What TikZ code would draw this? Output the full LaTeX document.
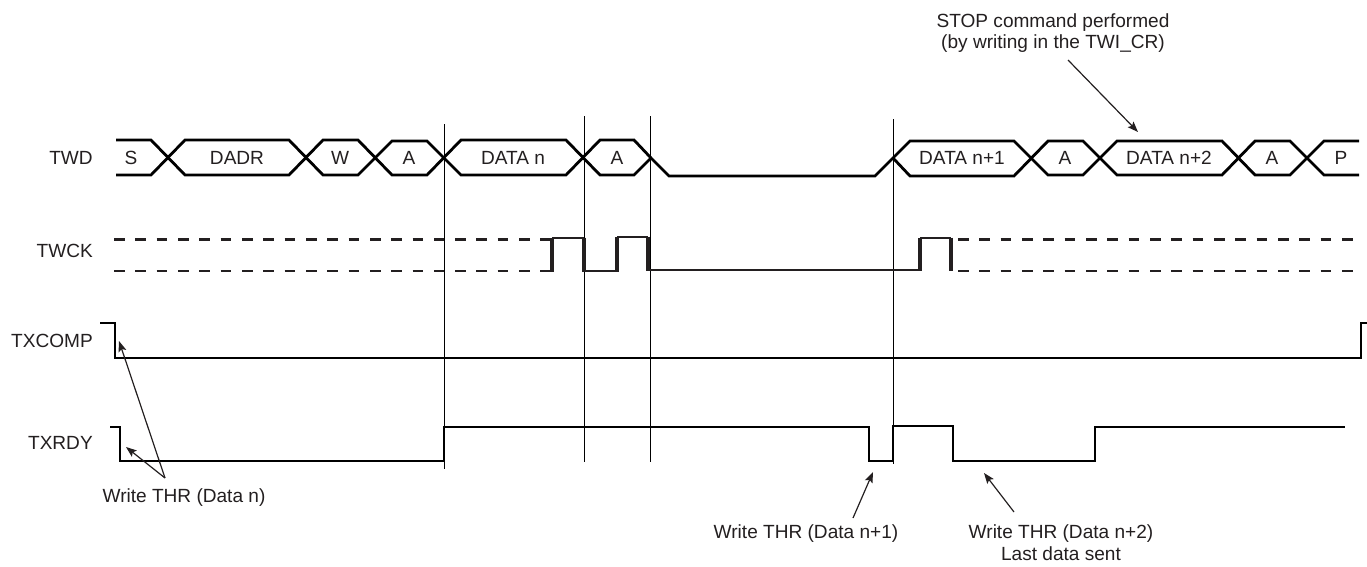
\documentclass[tikz,border=0pt]{standalone}
\usepackage{fontspec}
\setmainfont{Liberation Sans}
\usetikzlibrary{arrows.meta}
\definecolor{ink}{HTML}{231F20}
\tikzset{
 x=0.75pt,y=-0.75pt,
 lbl/.style={font=\fontsize{14.3}{16}\selectfont,text=ink,inner sep=0pt,align=center},
 bus/.style={line width=2.1pt,black,line join=miter},
 wave/.style={line width=2.2pt,black,line join=miter},
 guide/.style={line width=0.75pt,black},
 clkdash/.style={line width=2pt,ink,dash pattern=on 8pt off 8pt},
 clkthick/.style={line width=3.4pt,ink},
 clkthin/.style={line width=1.7pt,ink},
 callout/.style={line width=0.9pt,ink,-{Stealth[length=8pt,width=6pt,inset=1.6pt]}}
}
\begin{document}
\begin{tikzpicture}
\useasboundingbox (0,0) rectangle (1367,567);
% guides
\draw[guide] (444,124) -- (444,469);
\draw[guide] (584,116) -- (584,462);
\draw[guide] (650,116) -- (650,462);
\draw[guide] (893,119) -- (893,464);
% TWD bus
\draw[bus] (116,140) -- (151,140) -- (185,175) -- (289,175) -- (323,140) -- (358,140) -- (392,175) -- (427,175) -- (461,140) -- (566,140) -- (600,175) -- (634,175) -- (651,158);
\draw[bus] (116,175) -- (151,175) -- (185,140) -- (289,140) -- (323,175) -- (358,175) -- (392,141) -- (427,141) -- (461,175) -- (566,175) -- (600,140) -- (634,140) -- (651,158) -- (669,176) -- (875,176) -- (893,158) -- (910,141) -- (1014,141) -- (1048,175) -- (1083,175) -- (1117,141) -- (1222,141) -- (1255,175) -- (1290,175) -- (1324,141) -- (1359,141);
\draw[bus] (893,158) -- (910,176) -- (1014,176) -- (1048,141) -- (1083,141) -- (1117,175) -- (1222,175) -- (1255,141) -- (1290,141) -- (1324,175) -- (1359,175);
\node[lbl] (s) at (131,158) {S};
\node[lbl] (dadr) at (237,158) {DADR};
\node[lbl] (w) at (340,158) {W};
\node[lbl] (a1) at (409,158) {A};
\node[lbl] (dn) at (513,158) {DATA n};
\node[lbl] (a2) at (617,158) {A};
\node[lbl] (dn1) at (962,158) {DATA n+1};
\node[lbl] (a3) at (1065,158) {A};
\node[lbl] (dn2) at (1169,158) {DATA n+2};
\node[lbl] (a4) at (1272,158) {A};
\node[lbl] (p) at (1341,158) {P};
% signal names
\node[lbl,anchor=east] (twd) at (93,157.5) {TWD};
\node[lbl,anchor=east] (twck) at (93,250.5) {TWCK};
\node[lbl,anchor=east] (txcomp) at (93,341) {TXCOMP};
\node[lbl,anchor=east] (txrdy) at (93,443) {TXRDY};
% TWCK
\draw[clkdash] (114,239.5) -- (444,239.5);
\draw[clkdash] (114,271) -- (444,271);
\draw[clkdash] (455,239.5) -- (552,239.5);
\draw[clkdash] (455,271) -- (552,271);
\draw[clkdash] (958,239.5) -- (1353,239.5);
\draw[clkdash] (958,271) -- (1353,271);
\draw[clkthin] (552,238) -- (584,238) (584,271) -- (617,271) (617,237) -- (648,237) (648,270) -- (920,270) (920,238) -- (951,238);
\draw[clkthick] (552,271.5) -- (552,237.5) (584,237.5) -- (584,271.5) (617,271.5) -- (617,236.5) (648,236.5) -- (648,271) (920,270.5) -- (920,237.5) (951,237.5) -- (951,271);
% TXCOMP
\draw[wave] (100,323) -- (115,323) -- (115,358) -- (1361,358) -- (1361,323) -- (1367,323);
% TXRDY
\draw[wave] (110,427) -- (120,427) -- (120,461) -- (444,461) -- (444,427) -- (869,427) -- (869,461) -- (893,461) -- (893,426) -- (953,426) -- (953,461) -- (1095,461) -- (1095,427) -- (1345,427);
% callouts
\node[lbl] (wn) at (184,498) {Write THR (Data n)};
\node[lbl] (wn1) at (806,533.5) {Write THR (Data n+1)};
\node[lbl] (wn2) at (1061,533.5) {Write THR (Data n+2)};
\node[lbl] (last) at (1061,553.5) {Last data sent};
\node[lbl] (stop) at (1053,33) {STOP command performed\\(by writing in the TWI\_CR)};
\coordinate (apex) at (165,478);
\coordinate (t1) at (119,341);
\coordinate (t2) at (126,447);
\draw[callout] (apex) -- (t1);
\draw[callout] (apex) -- (t2);
\coordinate (n1s) at (853,518);
\coordinate (n1t) at (873,472);
\draw[callout] (n1s) -- (n1t);
\coordinate (n2s) at (1014,512);
\coordinate (n2t) at (984,473);
\draw[callout] (n2s) -- (n2t);
\coordinate (sts) at (1068,60);
\coordinate (stt) at (1138,132);
\draw[callout] (sts) -- (stt);
\end{tikzpicture}
\end{document}
